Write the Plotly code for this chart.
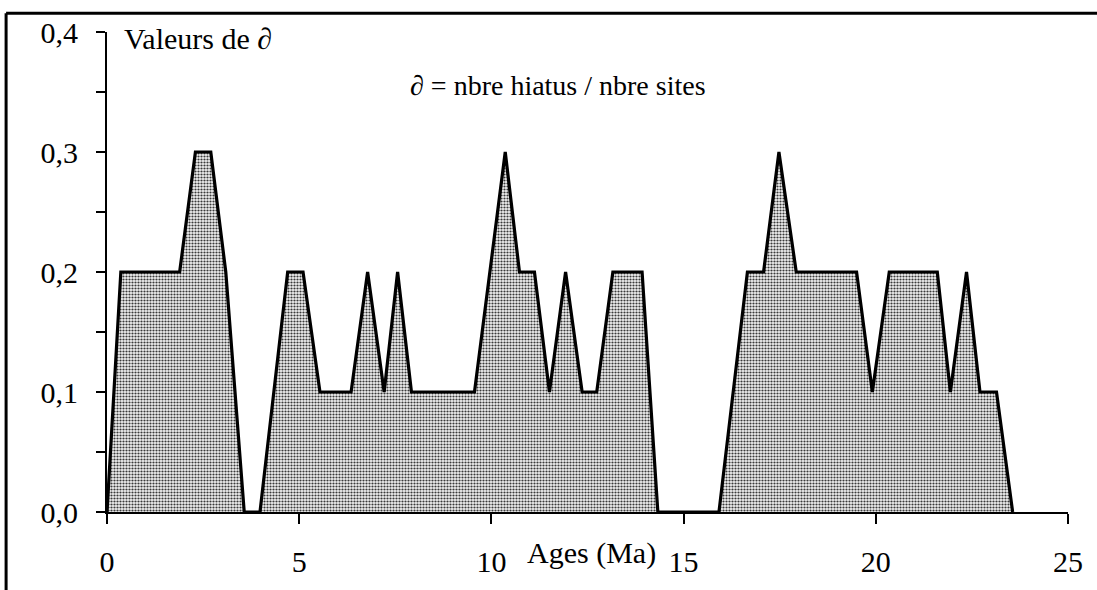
import plotly.graph_objects as go

# Ages (Ma) and values of ∂ (nbre hiatus / nbre sites) at each vertex of the profile
ages = [0.00, 0.36, 1.89, 2.30, 2.70, 3.09, 3.57,
        3.98, 4.70, 5.10, 5.54, 6.35, 6.78, 7.21, 7.56, 7.92, 9.56,
        10.36, 10.73, 11.12, 11.51, 11.93, 12.36, 12.74, 13.16, 13.92, 14.33,
        15.92, 16.66, 17.08, 17.48, 17.93, 19.50, 19.91, 20.35, 21.60,
        21.94, 22.36, 22.71, 23.14, 23.56]
delta = [0.0, 0.2, 0.2, 0.3, 0.3, 0.2, 0.0,
         0.0, 0.2, 0.2, 0.1, 0.1, 0.2, 0.1, 0.2, 0.1, 0.1,
         0.3, 0.2, 0.2, 0.1, 0.2, 0.1, 0.1, 0.2, 0.2, 0.0,
         0.0, 0.2, 0.2, 0.3, 0.2, 0.2, 0.1, 0.2, 0.2,
         0.1, 0.2, 0.1, 0.1, 0.0]

x_ticks = [0, 5, 10, 15, 20, 25]
x_labels = ["0", "5", "10", "15", "20", "25"]
y_ticks = [0.0, 0.05, 0.1, 0.15, 0.2, 0.25, 0.3, 0.35, 0.4]
y_labels = ["0,0", "", "0,1", "", "0,2", "", "0,3", "", "0,4"]

FONT = "Liberation Serif"
FS = 30

fig = go.Figure()
fig.add_trace(go.Scatter(
    x=ages, y=delta, mode="lines",
    line=dict(color="black", width=3.2),
    fill="tozeroy",
    fillcolor="#c8c8c8",
    fillpattern=dict(shape=".", size=3, solidity=0.42,
                     fgcolor="#3a3a3a", bgcolor="#f2f2f2", fillmode="replace"),
    hoverinfo="skip", showlegend=False,
))

fig.update_layout(
    width=1097, height=590,
    margin=dict(l=107, r=29, t=32, b=67),
    paper_bgcolor="white", plot_bgcolor="white",
    font=dict(family=FONT, size=FS, color="black"),
    xaxis=dict(range=[0, 25], tickvals=x_ticks, ticktext=x_labels,
               ticks="outside", ticklen=10, tickwidth=2, tickcolor="black",
               showline=True, linecolor="black", linewidth=2,
               showgrid=False, zeroline=False, ticklabelstandoff=12,
               tickfont=dict(family=FONT, size=FS)),
    yaxis=dict(range=[0, 0.4], tickvals=y_ticks, ticktext=y_labels,
               ticks="outside", ticklen=9, tickwidth=2, tickcolor="black",
               showline=True, linecolor="black", linewidth=2,
               showgrid=False, zeroline=False, ticklabelstandoff=12,
               tickfont=dict(family=FONT, size=FS)),
    shapes=[
        # outer frame: left and top edges
        dict(type="line", xref="paper", yref="paper",
             x0=-0.105, y0=1.039, x1=-0.105, y1=-0.2,
             line=dict(color="black", width=3)),
        dict(type="line", xref="paper", yref="paper",
             x0=-0.105, y0=1.039, x1=1.1, y1=1.039,
             line=dict(color="black", width=3)),
    ],
    annotations=[
        dict(text="Valeurs de ∂", xref="paper", yref="paper",
             x=0.016, y=(523 - 39) / 491, xanchor="left", yanchor="middle",
             showarrow=False, font=dict(family=FONT, size=FS)),
        dict(text="∂ = nbre hiatus / nbre sites", xref="paper", yref="paper",
             x=(558 - 107) / 961, y=(523 - 87) / 491,
             xanchor="center", yanchor="middle",
             showarrow=False, font=dict(family=FONT, size=28)),
        dict(text="Ages (Ma)", xref="paper", yref="paper",
             x=(591 - 107) / 961, y=(523 - 565) / 491,
             xanchor="center", yanchor="middle",
             showarrow=False, font=dict(family=FONT, size=FS)),
    ],
)

fig.write_html("out.html")
